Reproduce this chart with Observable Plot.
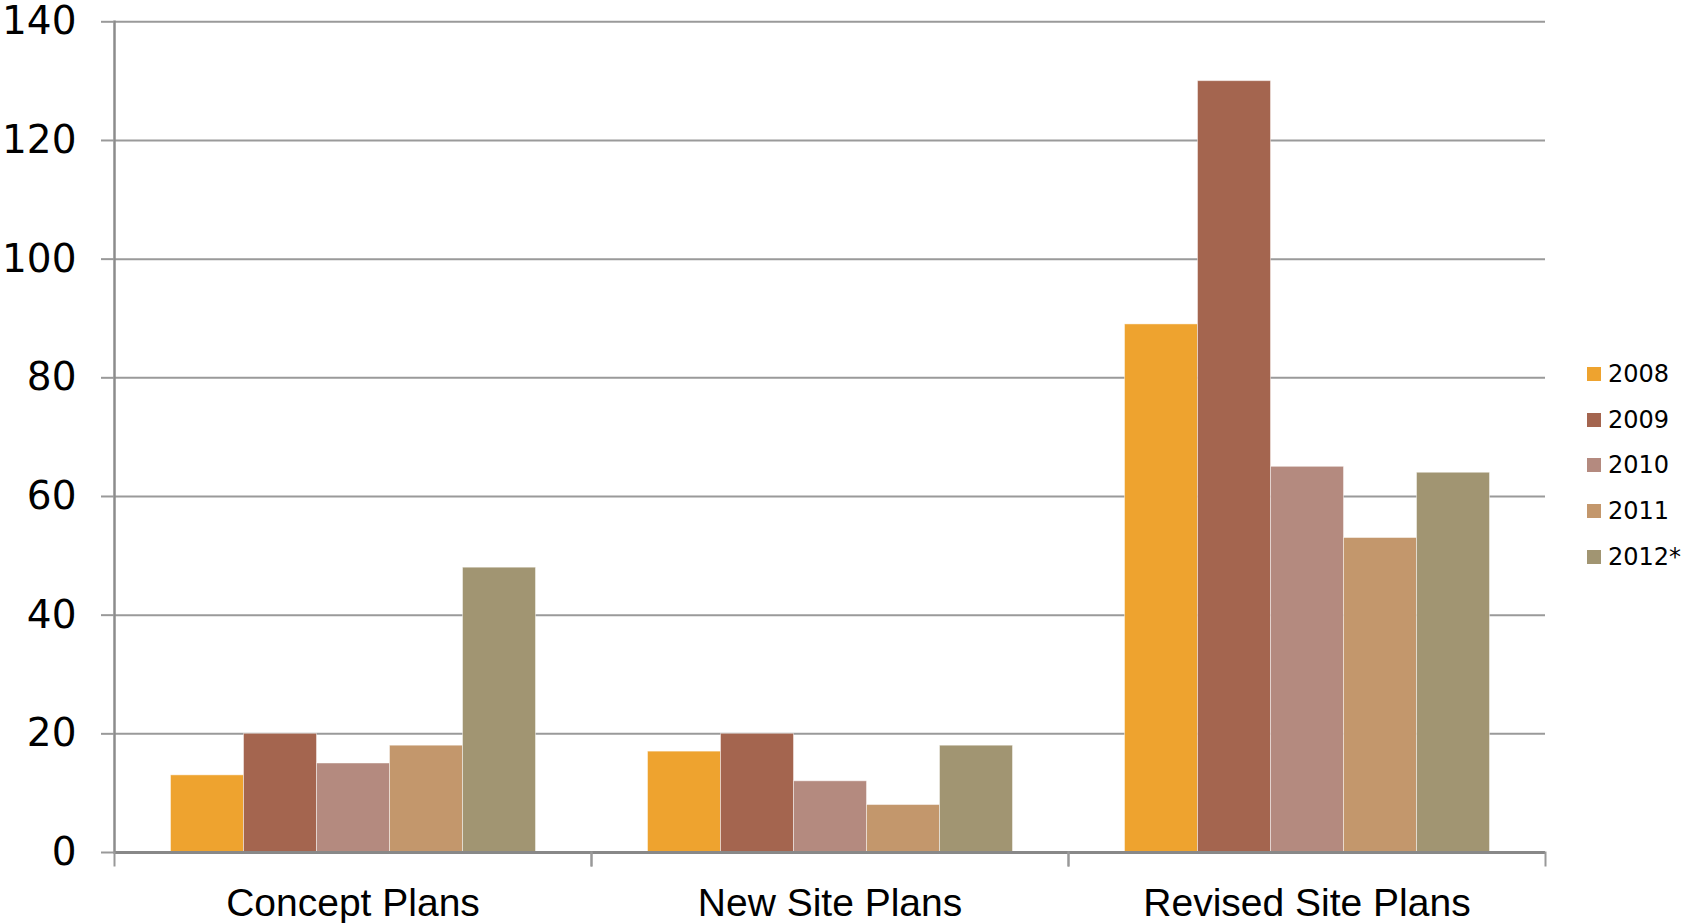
<!DOCTYPE html>
<html>
<head>
<meta charset="utf-8">
<script src="https://cdn.jsdelivr.net/npm/d3@7"></script>
<script src="https://cdn.jsdelivr.net/npm/@observablehq/plot@0.6"></script>
<style>
  html, body { margin: 0; padding: 0; background: #fff; overflow: hidden; }
  #wrap { position: relative; width: 1683px; height: 923px; font-family: "Liberation Sans", Arial, sans-serif; }
  #legend { position: absolute; left: 1587px; top: 351px; font-family: "DejaVu Sans", sans-serif; }
  .row { display: flex; align-items: center; height: 45.8px; font-size: 24px; color: #000; }
  .sw { width: 14px; height: 14px; margin-right: 7px; }
</style>
</head>
<body>
<div id="wrap"><div id="chart"></div><div id="legend"></div></div>
<script>
const categories = ["Concept Plans", "New Site Plans", "Revised Site Plans"];
const years = ["2008", "2009", "2010", "2011", "2012*"];
const v2008 = [13, 17, 89];
const v2009 = [20, 20, 130];
const v2010 = [15, 12, 65];
const v2011 = [18, 8, 53];
const v2012 = [48, 18, 64];
const yTicks = [0, 20, 40, 60, 80, 100, 120, 140];
const colors = ["#EEA32F", "#A4654F", "#B48A7F", "#C3976C", "#A19572"];

const series = [v2008, v2009, v2010, v2011, v2012];
const data = [];
categories.forEach((c, i) => years.forEach((yr, j) => data.push({cat: c, year: yr, value: series[j][i]})));

const W = 1683, H = 923, mT = 21.3, mB = 71, mL = 113.5, mR = 138;
const plotH = H - mT - mB;

const chart = Plot.plot({
  width: W, height: H,
  marginTop: mT, marginBottom: mB, marginLeft: mL, marginRight: mR,
  style: {fontFamily: "'Liberation Sans', Arial, sans-serif", background: "#fff", overflow: "visible"},
  fx: {domain: categories, padding: 0, label: null},
  x: {domain: years, paddingInner: 0, paddingOuter: 0.75, axis: null},
  y: {domain: [0, 140], label: null},
  color: {domain: years, range: colors},
  marks: [
    Plot.gridY(yTicks, {stroke: "#9a9a9a", strokeOpacity: 1, strokeWidth: 2}),
    Plot.barY(data, {fx: "cat", x: "year", y: "value", fill: "year", stroke: "#fff", strokeOpacity: 0.45, strokeWidth: 1}),
    Plot.ruleY([0], {stroke: "#888", strokeWidth: 3}),
    Plot.frame({anchor: "left", facetAnchor: "left", stroke: "#8c8c8c", strokeWidth: 2.5}),
    Plot.frame({anchor: "left", insetTop: plotH, insetBottom: -13, stroke: "#999", strokeWidth: 2}),
    Plot.frame({anchor: "right", insetTop: plotH, insetBottom: -13, stroke: "#999", strokeWidth: 2}),
    Plot.axisY(yTicks, {tickSize: 13, tickPadding: 25, stroke: "#999", strokeWidth: 2, fill: "#000", fontSize: 39, fontFamily: "'DejaVu Sans', sans-serif", label: null}),
    Plot.axisFx({anchor: "bottom", tickSize: 0, tickPadding: 36, fontSize: 39, fill: "#000", label: null})
  ]
});
document.getElementById("chart").appendChild(chart);

const legend = document.getElementById("legend");
years.forEach((yr, j) => {
  const row = document.createElement("div");
  row.className = "row";
  const sw = document.createElement("div");
  sw.className = "sw";
  sw.style.background = colors[j];
  const t = document.createElement("span");
  t.textContent = yr;
  row.appendChild(sw); row.appendChild(t);
  legend.appendChild(row);
});
</script>
</body>
</html>
